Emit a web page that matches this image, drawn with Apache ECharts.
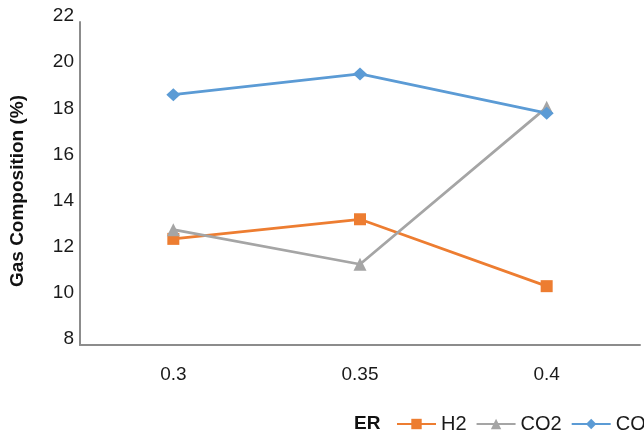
<!DOCTYPE html>
<html>
<head>
<meta charset="utf-8">
<script src="https://cdn.jsdelivr.net/npm/echarts@6/dist/echarts.min.js"></script>
<style>
  html, body { margin: 0; padding: 0; background: #fff; }
  #main { width: 644px; height: 435px; }
</style>
</head>
<body>
<div id="main"></div>
<script>
// 数据
var erValues = ['0.3', '0.35', '0.4'];
var h2 = [12.6, 13.45, 10.55];
var co2 = [13.0, 11.5, 18.3];
var co = [18.85, 19.75, 18.05];

var chart = echarts.init(document.getElementById('main'));

var font = 'Liberation Sans, Arial, sans-serif';

var option = {
    animation: false,
    grid: { left: 80, right: 4, top: 22, bottom: 90 },
    graphic: [
        {
            // 纵轴标题
            type: 'text',
            x: 18,
            y: 191,
            rotation: Math.PI / 2,
            style: {
                text: 'Gas Composition (%)',
                font: 'bold 19px ' + font,
                fill: '#111',
                align: 'center',
                verticalAlign: 'middle'
            }
        },
        {
            // 横轴标题
            type: 'text',
            x: 354,
            y: 424,
            style: {
                text: 'ER',
                font: 'bold 19px ' + font,
                fill: '#111',
                verticalAlign: 'middle'
            }
        }
    ],
    legend: {
        left: 396,
        top: 414,
        width: 500,
        padding: 0,
        itemWidth: 39,
        itemHeight: 13,
        itemGap: 9,
        textStyle: { fontFamily: font, fontSize: 20, color: '#1a1a1a' },
        data: ['H2', 'CO2', 'CO']
    },
    xAxis: {
        type: 'category',
        data: erValues,
        boundaryGap: true,
        axisLine: { lineStyle: { color: '#8c8c8c', width: 2 } },
        axisTick: { show: false },
        axisLabel: { fontFamily: font, fontSize: 19, color: '#1a1a1a', margin: 20 }
    },
    yAxis: {
        type: 'value',
        min: 8,
        max: 22,
        interval: 2,
        axisLine: { show: true, lineStyle: { color: '#8c8c8c', width: 2 } },
        axisTick: { show: false },
        splitLine: { show: false },
        axisLabel: {
            fontFamily: font,
            fontSize: 19,
            color: '#1a1a1a',
            margin: 6,
            verticalAlign: 'bottom',
            lineHeight: 12
        }
    },
    series: [
        {
            name: 'H2',
            type: 'line',
            data: h2,
            symbol: 'rect',
            symbolSize: 12,
            color: '#ED7D31',
            lineStyle: { width: 2.75 }
        },
        {
            name: 'CO2',
            type: 'line',
            data: co2,
            symbol: 'triangle',
            symbolSize: 13,
            color: '#A5A5A5',
            lineStyle: { width: 2.75 }
        },
        {
            name: 'CO',
            type: 'line',
            data: co,
            symbol: 'diamond',
            symbolSize: [14, 13],
            color: '#5B9BD5',
            lineStyle: { width: 2.75 }
        }
    ]
};

chart.setOption(option);
</script>
</body>
</html>
